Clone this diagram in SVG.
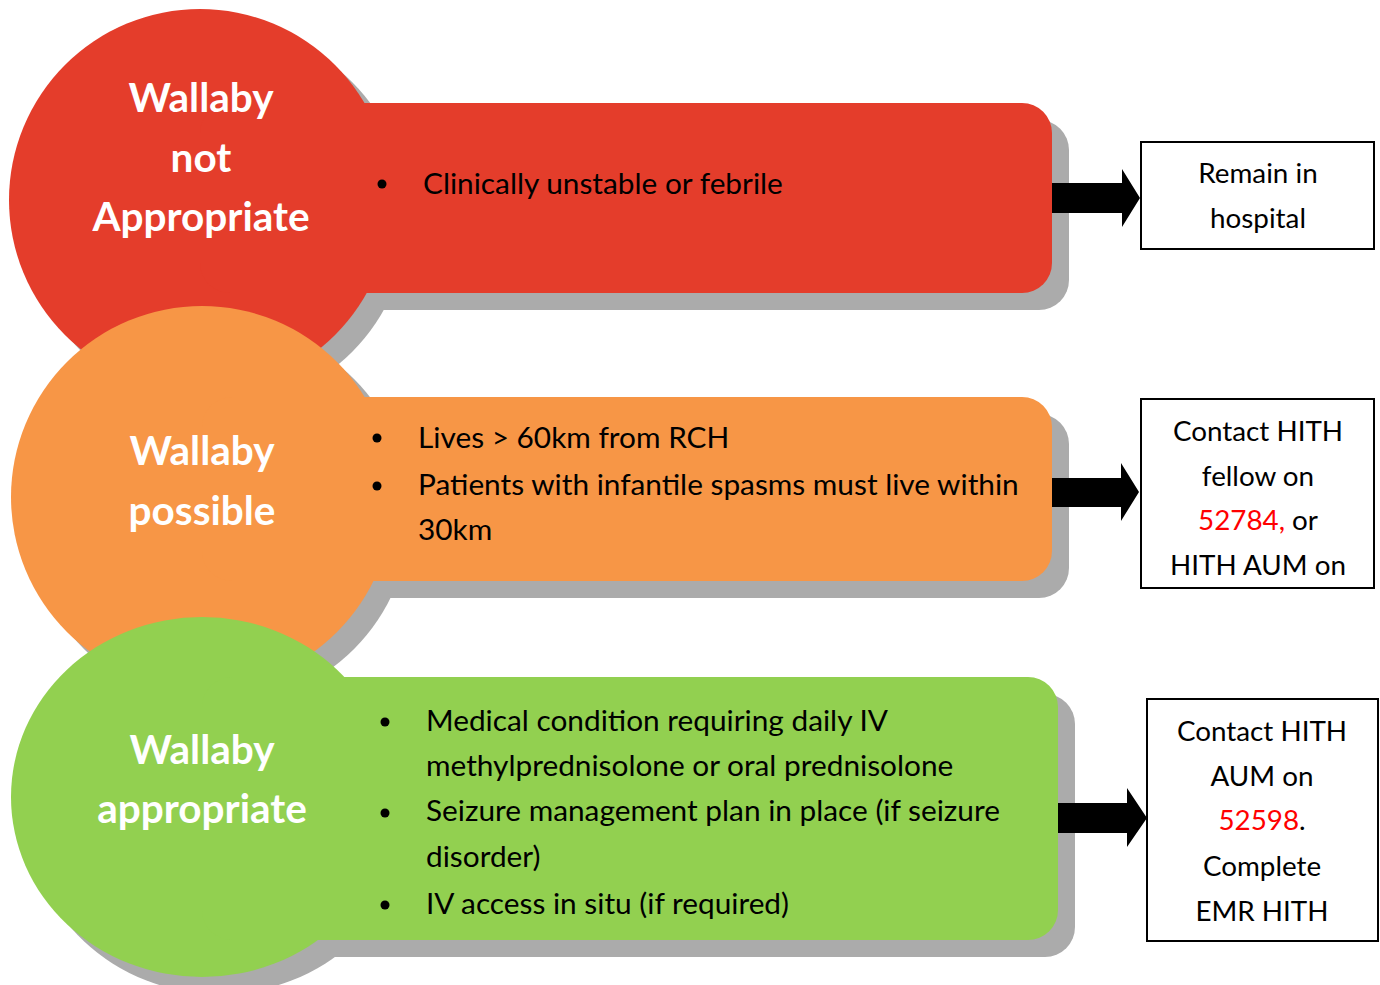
<svg xmlns="http://www.w3.org/2000/svg" width="1380" height="985" viewBox="0 0 1380 985">
<style>
.sh{fill:#ababab}
.head{font-family:Lato,"Liberation Sans",sans-serif;font-weight:bold;font-size:40.5px;fill:#fff;text-anchor:middle}
.txt{font-family:Lato,"Liberation Sans",sans-serif;font-size:29.8px;fill:#000}
.box{fill:#fff;stroke:#000;stroke-width:2}
.bt{font-family:Lato,"Liberation Sans",sans-serif;font-size:27.8px;fill:#000;text-anchor:middle}
.num{fill:#ff0000}
</style>
<rect width="1380" height="985" fill="#fff"/>
<g id="red">
  <g class="sh" transform="translate(17,17)"><circle cx="200" cy="200" r="191"/><rect x="200" y="103" width="852" height="190" rx="30"/></g>
  <g fill="#e43d2b"><circle cx="200" cy="200" r="191"/><rect x="200" y="103" width="852" height="190" rx="30"/></g>
  <text class="head" x="201" y="112">Wallaby</text>
  <text class="head" x="201" y="172">not</text>
  <text class="head" x="201" y="231">Appropriate</text>
  <circle cx="382" cy="184" r="4.5"/>
  <text class="txt" x="423" y="194">Clinically unstable or febrile</text>
</g>
<g id="orange">
  <g class="sh" transform="translate(17,17)"><circle cx="202" cy="497" r="191"/><rect x="202" y="397" width="850" height="184" rx="30"/></g>
  <g fill="#f79646"><circle cx="202" cy="497" r="191"/><rect x="202" y="397" width="850" height="184" rx="30"/></g>
  <text class="head" x="202" y="465">Wallaby</text>
  <text class="head" x="202" y="525">possible</text>
  <circle cx="377" cy="438" r="4.5"/>
  <circle cx="377" cy="486" r="4.5"/>
  <text class="txt" x="418" y="448">Lives &gt; 60km from RCH</text>
  <text class="txt" x="418" y="495">Patients with infantile spasms must live within</text>
  <text class="txt" x="418" y="540">30km</text>
</g>
<g id="green">
  <g class="sh" transform="translate(17,17)"><ellipse cx="202" cy="797" rx="191" ry="180"/><rect x="202" y="677" width="856" height="263" rx="30"/></g>
  <g fill="#92d050"><ellipse cx="202" cy="797" rx="191" ry="180"/><rect x="202" y="677" width="856" height="263" rx="30"/></g>
  <text class="head" x="202" y="764">Wallaby</text>
  <text class="head" x="202" y="823">appropriate</text>
  <circle cx="385" cy="722" r="4.5"/>
  <circle cx="385" cy="813" r="4.5"/>
  <circle cx="385" cy="905" r="4.5"/>
  <text class="txt" x="426" y="731">Medical condition requiring daily IV</text>
  <text class="txt" x="426" y="776">methylprednisolone or oral prednisolone</text>
  <text class="txt" x="426" y="821">Seizure management plan in place (if seizure</text>
  <text class="txt" x="426" y="867">disorder)</text>
  <text class="txt" x="426" y="914">IV access in situ (if required)</text>
</g>
<g id="connectors" fill="#000">
  <polygon points="1052,183 1122,183 1122,169 1140,198 1122,227 1122,213 1052,213"/>
  <polygon points="1052,478 1121,478 1121,463 1139,492 1121,521 1121,507 1052,507"/>
  <polygon points="1058,803 1127,803 1127,788 1147,818 1127,847 1127,833 1058,833"/>
</g>
<g id="box1">
  <rect class="box" x="1141" y="142" width="233" height="107"/>
  <text class="bt" x="1258" y="183">Remain in</text>
  <text class="bt" x="1258" y="228">hospital</text>
</g>
<g id="box2">
  <rect class="box" x="1141" y="399" width="233" height="189"/>
  <text class="bt" x="1258" y="441">Contact HITH</text>
  <text class="bt" x="1258" y="486">fellow on</text>
  <text class="bt" x="1258" y="530"><tspan class="num">52784,</tspan> or</text>
  <text class="bt" x="1258" y="575">HITH AUM on</text>
</g>
<g id="box3">
  <rect class="box" x="1147" y="699" width="231" height="242"/>
  <text class="bt" x="1262" y="741">Contact HITH</text>
  <text class="bt" x="1262" y="786">AUM on</text>
  <text class="bt" x="1262" y="830"><tspan class="num">52598</tspan>.</text>
  <text class="bt" x="1262" y="876">Complete</text>
  <text class="bt" x="1262" y="921">EMR HITH</text>
</g>
</svg>
